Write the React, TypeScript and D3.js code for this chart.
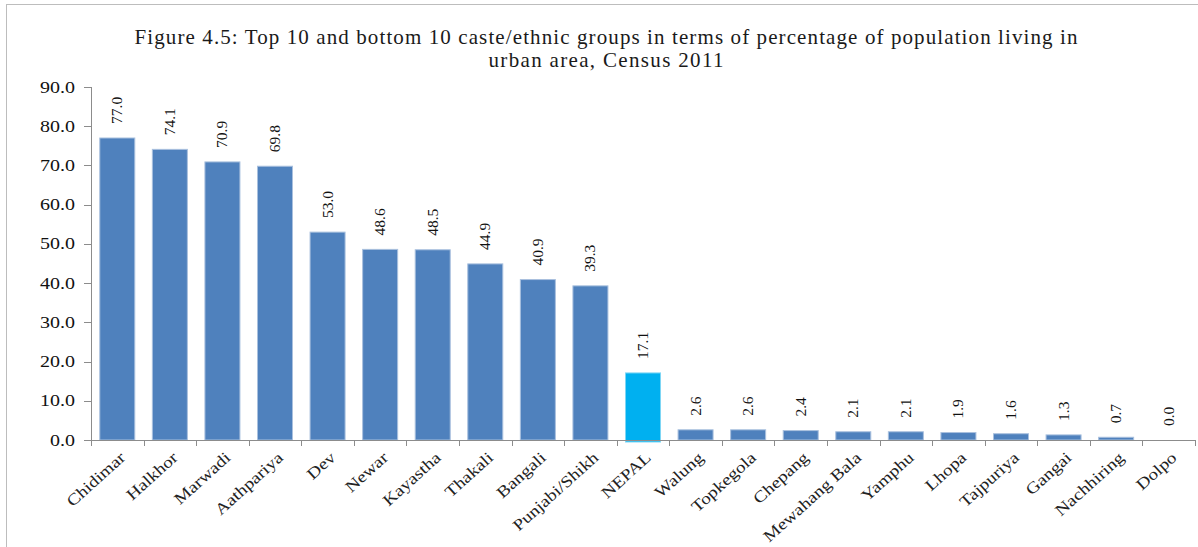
import React from "react";
import * as d3 from "d3";

const categories = ["Chidimar","Halkhor","Marwadi","Aathpariya","Dev","Newar","Kayastha","Thakali","Bangali","Punjabi/Shikh","NEPAL","Walung","Topkegola","Chepang","Mewahang Bala","Yamphu","Lhopa","Tajpuriya","Gangai","Nachhiring","Dolpo"];
const values = [77.0,74.1,70.9,69.8,53.0,48.6,48.5,44.9,40.9,39.3,17.1,2.6,2.6,2.4,2.1,2.1,1.9,1.6,1.3,0.7,0.0];
const highlight = "NEPAL";
const yTicks = [0,10,20,30,40,50,60,70,80,90];
const titleLines = ["Figure 4.5: Top 10 and bottom 10 caste/ethnic groups in terms of percentage of population living in","urban area, Census 2011"];

const W = 1198, H = 547;
const FONT = "'Liberation Serif', 'Times New Roman', serif";

export default function App() {
  const x = d3.scaleBand<string>().domain(categories).range([91, 1195]).paddingInner(0.334).paddingOuter(0.167);
  const y = d3.scaleLinear().domain([0, 90]).range([440, 87]);
  const step = x.step();
  const x0 = 91;
  const boundaries = d3.range(categories.length + 1).map(i => x0 + i * step);
  const axisColor = "#8c8c8c";
  return (
    <svg width={W} height={H} style={{ position: "absolute", left: 0, top: 0, background: "#fff" }} fontFamily={FONT}>
      <rect x={6.5} y={4.5} width={W + 10} height={H + 10} fill="none" stroke="#bdbdbd" strokeWidth={1} />
      <text x={606} y={44} textAnchor="middle" fontSize={21} fill="#1a1a1a" textLength={943} lengthAdjust="spacing">{titleLines[0]}</text>
      <text x={606} y={67} textAnchor="middle" fontSize={21} fill="#1a1a1a" textLength={235} lengthAdjust="spacing">{titleLines[1]}</text>
      {/* y axis */}
      <line x1={91.5} x2={91.5} y1={y(90)} y2={y(0)} stroke={axisColor} />
      {yTicks.map(t => (
        <g key={t}>
          <line x1={84} x2={91.5} y1={Math.round(y(t)) + 0.5} y2={Math.round(y(t)) + 0.5} stroke={axisColor} />
          <g transform={`translate(75,${y(t) + 5.5}) scale(1.25,1)`}>
            <text textAnchor="end" fontSize={16} fill="#111">{d3.format(".1f")(t)}</text>
          </g>
        </g>
      ))}
      {/* bars */}
      {categories.map((c, i) => {
        const v = values[i];
        const isH = c === highlight;
        const bx = x(c)!;
        const top = y(v);
        return (
          <g key={c}>
            {v > 0 && (
              <rect x={bx} y={top} width={x.bandwidth()} height={y(0) - top + (isH ? 2 : 0)}
                fill={isH ? "#00B0F0" : "#4F81BD"} stroke={isH ? "#7fd6f5" : "#a9c0de"} strokeWidth={1} />
            )}
          </g>
        );
      })}
      {/* x axis */}
      <line x1={91} x2={1195} y1={440.5} y2={440.5} stroke={axisColor} />
      {boundaries.map((b, i) => (
        <line key={i} x1={Math.round(b) + 0.5} x2={Math.round(b) + 0.5} y1={440} y2={446} stroke={axisColor} />
      ))}
      {/* value labels */}
      {categories.map((c, i) => {
        const cx = x(c)! + x.bandwidth() / 2;
        return (
          <text key={c} transform={`translate(${cx + 5},${y(values[i]) - 14}) rotate(-90)`} fontSize={15.5} fill="#111">
            {d3.format(".1f")(values[i])}
          </text>
        );
      })}
      {/* category labels */}
      {categories.map((c) => {
        const cx = x(c)! + x.bandwidth() / 2;
        return (
          <g key={c} transform={`translate(${cx + 9},${459}) rotate(-42) scale(1.2,1)`}>
            <text textAnchor="end" fontSize={16} fill="#222">{c}</text>
          </g>
        );
      })}
    </svg>
  );
}
